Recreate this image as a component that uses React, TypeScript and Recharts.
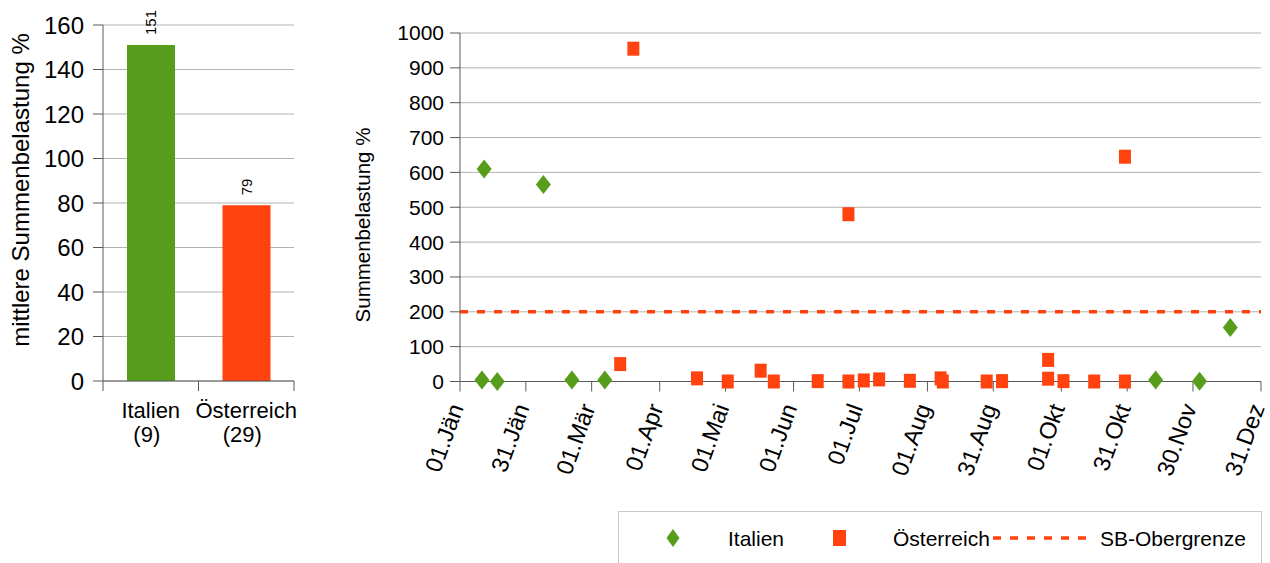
import {
  Bar,
  BarChart,
  CartesianGrid,
  Cell,
  LabelList,
  ReferenceLine,
  Scatter,
  ScatterChart,
  XAxis,
  YAxis,
} from "recharts";

const FONT = '"Liberation Sans", Arial, sans-serif';
const GREEN = "#579d1c";
const ORANGE = "#ff420e";
const GRID = "#b3b3b3";
const AXIS = "#5a5a5a";

// left chart: mean load per country
const BAR_CATEGORIES = ["Italien", "Österreich"];
const BAR_COUNTS = [9, 29];
const BAR_MEANS = [151, 79];
const BAR_COLORS = [GREEN, ORANGE];
const BAR_TICKS = [0, 20, 40, 60, 80, 100, 120, 140, 160];

// right chart: single samples over the year (day of year, 0 = 01.Jän)
const IT_DAYS = [10, 11, 17, 38, 51, 66, 317, 337, 351];
const IT_VALUES = [4, 610, 0, 565, 4, 4, 4, 1, 155];
const AT_DAYS = [
  73, 79, 108, 122, 137, 143, 163, 177, 177, 184, 191, 205, 219, 220, 240,
  247, 268, 268, 275, 289, 303, 303,
];
const AT_VALUES = [
  50, 955, 9, 0, 31, 0, 1, 480, 0, 3, 6, 2, 9, 0, 0, 1, 62, 8, 1, 0, 645, 0,
];
const LIMIT = 200;
const DATE_TICKS = [0, 30, 60, 91, 121, 152, 182, 213, 243, 274, 304, 334, 365];
const DATE_LABELS = [
  "01.Jän", "31.Jän", "01.Mär", "01.Apr", "01.Mai", "01.Jun", "01.Jul",
  "01.Aug", "31.Aug", "01.Okt", "31.Okt", "30.Nov", "31.Dez",
];
const Y_TICKS = [0, 100, 200, 300, 400, 500, 600, 700, 800, 900, 1000];

const barData = BAR_CATEGORIES.map((name, i) => ({
  pos: i + 0.5,
  name,
  n: BAR_COUNTS[i],
  mean: BAR_MEANS[i],
}));
const barTicks = [0, 0.5, 1, 1.5, 2];

const itData = IT_DAYS.map((day, i) => ({ day, value: IT_VALUES[i] }));
const atData = AT_DAYS.map((day, i) => ({ day, value: AT_VALUES[i] }));

const CategoryTick = (props: any) => {
  const { x, y, payload } = props;
  const v = payload.value;
  if (Number.isInteger(v)) {
    return <line x1={x} x2={x} y1={y - 10} y2={y} stroke={AXIS} strokeWidth={1} />;
  }
  const d = barData[Math.floor(v)];
  return (
    <text x={x} y={y} textAnchor="middle" fontSize={22} fill="#000" fontFamily={FONT}>
      <tspan x={x} dy={27}>{d.name}</tspan>
      <tspan x={x - 4} dy={24}>({d.n})</tspan>
    </text>
  );
};

const ValueLabel = (props: any) => {
  const { x, y, width, value } = props;
  const cx = x + width / 2;
  const cy = y - 10;
  return (
    <text
      x={cx}
      y={cy}
      transform={`rotate(-90 ${cx} ${cy})`}
      textAnchor="start"
      dominantBaseline="central"
      fontSize={15}
      fill="#000"
      fontFamily={FONT}
    >
      {value}
    </text>
  );
};

const DateTick = (props: any) => {
  const { x, y, payload } = props;
  const idx = DATE_TICKS.indexOf(payload.value);
  return (
    <g transform={`translate(${x + 4},${y + 16})`}>
      <text transform="rotate(-70)" textAnchor="end" fontSize={23.5} fill="#000" fontFamily={FONT}>
        {DATE_LABELS[idx]}
      </text>
    </g>
  );
};

const Diamond = (props: any) => {
  const { cx, cy } = props;
  return (
    <polygon
      points={`${cx},${cy - 9.5} ${cx + 7.5},${cy} ${cx},${cy + 9.5} ${cx - 7.5},${cy}`}
      fill={GREEN}
    />
  );
};

const Square = (props: any) => {
  const { cx, cy } = props;
  return <rect x={cx - 6} y={cy - 7} width={12} height={14} fill={ORANGE} />;
};

const LEGEND_LABELS = ["Italien", "Österreich", "SB-Obergrenze"];

function LegendBox() {
  const text = (left: number, label: string) => (
    <span
      style={{
        position: "absolute",
        left,
        top: 27,
        transform: "translateY(-50%)",
        fontSize: 21,
        lineHeight: "24px",
        whiteSpace: "nowrap",
      }}
    >
      {label}
    </span>
  );
  return (
    <div
      style={{
        position: "absolute",
        left: 618,
        top: 511,
        width: 644,
        height: 80,
        border: "1px solid #c8c8c8",
        boxSizing: "border-box",
      }}
    >
      <svg width={644} height={60} style={{ position: "absolute", left: -1, top: -1 }}>
        <polygon points="55,18 61.5,27 55,36 48.5,27" fill={GREEN} />
        <rect x={215} y={19} width={13} height={16} fill={ORANGE} />
        <line x1={375} x2={474} y1={27} y2={27} stroke={ORANGE} strokeWidth={3.5} strokeDasharray="8 9" />
      </svg>
      {text(109, LEGEND_LABELS[0])}
      {text(274, LEGEND_LABELS[1])}
      {text(481, LEGEND_LABELS[2])}
    </div>
  );
}

export default function App() {
  return (
    <div
      style={{
        position: "absolute",
        left: 0,
        top: 0,
        width: 1270,
        height: 563,
        overflow: "hidden",
        background: "#fff",
        fontFamily: FONT,
      }}
    >
      <div style={{ position: "absolute", left: 0, top: 0 }}>
        <BarChart
          width={310}
          height={460}
          data={barData}
          margin={{ top: 25, right: 16, left: 0, bottom: 0 }}
        >
          <CartesianGrid vertical={false} stroke={GRID} />
          <XAxis
            dataKey="pos"
            type="number"
            domain={[0, 2]}
            ticks={barTicks}
            interval={0}
            height={79}
            tickSize={10}
            tickMargin={0}
            tickLine={false}
            axisLine={{ stroke: AXIS }}
            tick={<CategoryTick />}
          />
          <YAxis
            domain={[0, 160]}
            ticks={BAR_TICKS}
            interval={0}
            width={103}
            tickSize={10}
            tickMargin={9}
            tick={{ fontSize: 24, fill: "#000", fontFamily: FONT }}
            tickLine={{ stroke: AXIS }}
            axisLine={{ stroke: AXIS }}
            label={{
              content: () => (
                <text
                  x={20}
                  y={190}
                  transform="rotate(-90 20 190)"
                  textAnchor="middle"
                  dominantBaseline="central"
                  fontSize={24}
                  fill="#000"
                  fontFamily={FONT}
                >
                  mittlere Summenbelastung %
                </text>
              ),
            }}
          />
          <YAxis
            yAxisId="r"
            orientation="right"
            width={0}
            domain={[0, 160]}
            tick={false}
            tickLine={false}
            axisLine={{ stroke: GRID }}
          />
          <Bar dataKey="mean" barSize={48} isAnimationActive={false}>
            {barData.map((d, i) => (
              <Cell key={d.name} fill={BAR_COLORS[i]} />
            ))}
            <LabelList dataKey="mean" content={<ValueLabel />} />
          </Bar>
        </BarChart>
      </div>

      <div style={{ position: "absolute", left: 340, top: 0 }}>
        <ScatterChart
          width={930}
          height={500}
          margin={{ top: 33, right: 9, left: 0, bottom: 0 }}
        >
          <CartesianGrid vertical={false} stroke={GRID} />
          <XAxis
            dataKey="day"
            type="number"
            domain={[0, 365]}
            ticks={DATE_TICKS}
            interval={0}
            height={118.5}
            tickSize={10}
            tickMargin={0}
            tickLine={{ stroke: AXIS }}
            axisLine={{ stroke: AXIS }}
            tick={<DateTick />}
          />
          <YAxis
            dataKey="value"
            type="number"
            domain={[0, 1000]}
            ticks={Y_TICKS}
            interval={0}
            width={120}
            tickSize={10}
            tickMargin={6}
            tick={{ fontSize: 21, fill: "#000", fontFamily: FONT }}
            tickLine={{ stroke: AXIS }}
            axisLine={{ stroke: AXIS }}
            label={{
              content: () => (
                <text
                  x={22}
                  y={225}
                  transform="rotate(-90 22 225)"
                  textAnchor="middle"
                  dominantBaseline="central"
                  fontSize={20.5}
                  fill="#000"
                  fontFamily={FONT}
                >
                  Summenbelastung %
                </text>
              ),
            }}
          />
          <YAxis
            yAxisId="r"
            orientation="right"
            width={0}
            domain={[0, 1000]}
            tick={false}
            tickLine={false}
            axisLine={{ stroke: GRID }}
          />
          <ReferenceLine
            y={LIMIT}
            stroke={ORANGE}
            strokeWidth={3.5}
            strokeDasharray="8 9"
          />
          <Scatter
            name="Italien"
            data={itData}
            fill={GREEN}
            shape={<Diamond />}
            isAnimationActive={false}
          />
          <Scatter
            name="Österreich"
            data={atData}
            fill={ORANGE}
            shape={<Square />}
            isAnimationActive={false}
          />
        </ScatterChart>
      </div>

      <LegendBox />
    </div>
  );
}
